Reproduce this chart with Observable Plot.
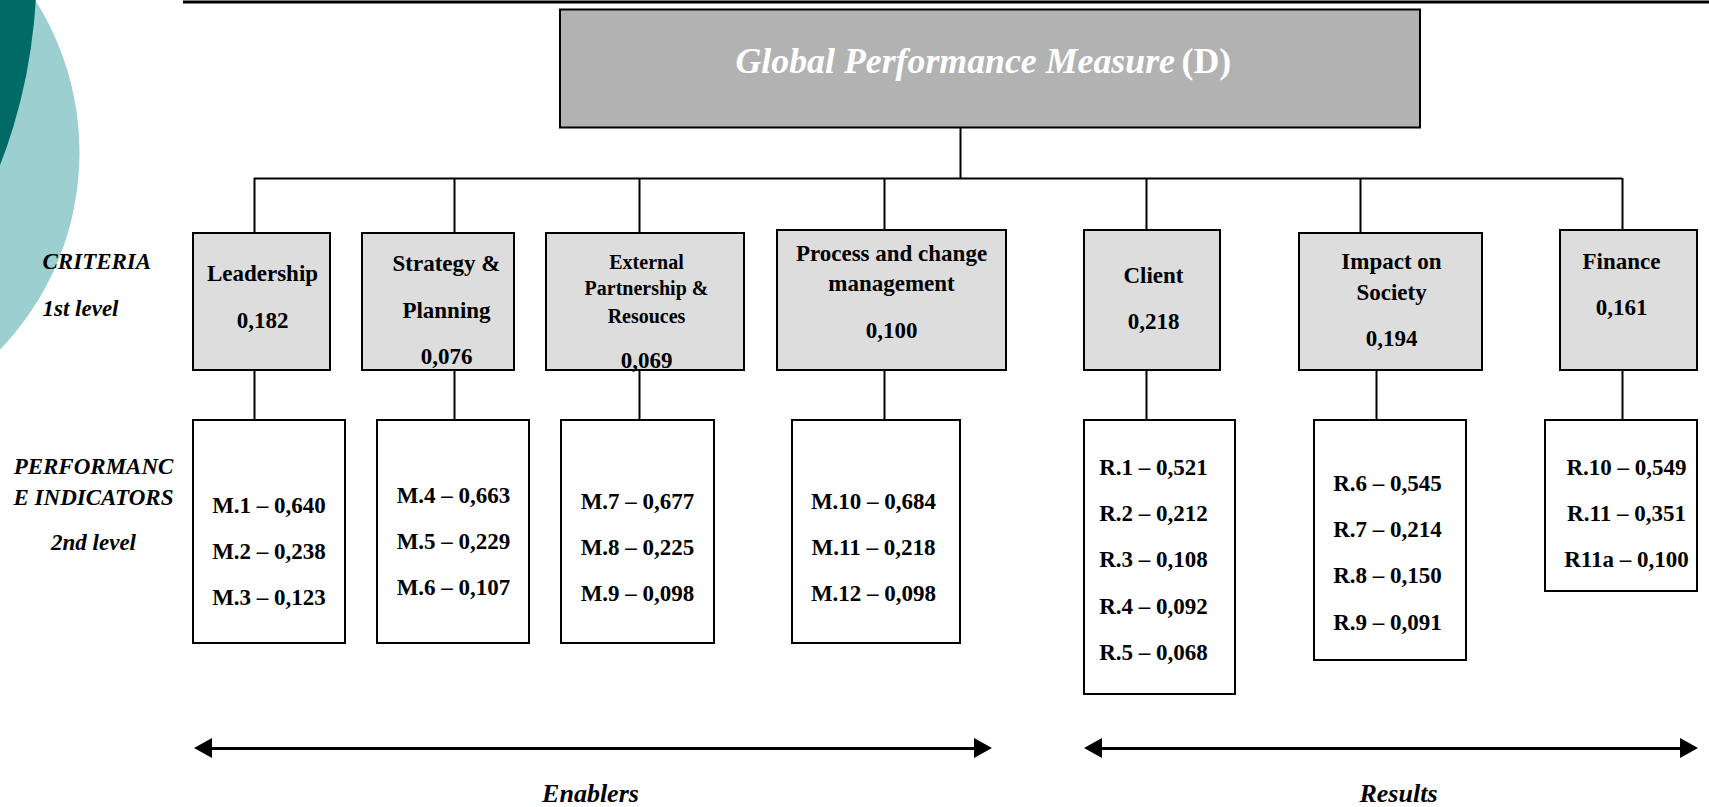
<!DOCTYPE html>
<html><head><meta charset="utf-8">
<script src="https://cdn.jsdelivr.net/npm/d3@7"></script>
<script src="https://cdn.jsdelivr.net/npm/@observablehq/plot@0.6"></script>
<style>html,body{margin:0;padding:0;background:#fff;overflow:hidden}</style>
</head><body><div id="chart"></div>
<script>
// ---------- DATA ----------
const title = "Global Performance Measure";
const titleCode = "(D)";
const criteria = ["Leadership", "Strategy &\nPlanning", "External\nPartnership &\nResouces", "Process and change\nmanagement", "Client", "Impact on\nSociety", "Finance"];
const criteriaWeights = ["0,182", "0,076", "0,069", "0,100", "0,218", "0,194", "0,161"];
const indicatorCodes = [["M.1","M.2","M.3"],["M.4","M.5","M.6"],["M.7","M.8","M.9"],["M.10","M.11","M.12"],["R.1","R.2","R.3","R.4","R.5"],["R.6","R.7","R.8","R.9"],["R.10","R.11","R11a"]];
const indicatorWeights = [["0,640","0,238","0,123"],["0,663","0,229","0,107"],["0,677","0,225","0,098"],["0,684","0,218","0,098"],["0,521","0,212","0,108","0,092","0,068"],["0,545","0,214","0,150","0,091"],["0,549","0,351","0,100"]];
const groups = ["Enablers", "Results"];
const levelLabels = [["CRITERIA", "1st level"], ["PERFORMANC", "E INDICATORS", "2nd level"]];

// ---------- LAYOUT (pixel frame) ----------
const W = 1709, H = 807;
const titleBox = {x1: 560, x2: 1420, y1: 9.5, y2: 127.5, linkX: 960, textX: 735, codeX: 1181, baseline: 72};
const hubY = 178, topRule = {x1: 183, x2: 1709, y: 1.5};
const critBox = [[193,330,233,370],[362,514,233,370],[546,744,233,370],[777,1006,230,370],[1084,1220,230,370],[1299,1482,233,370],[1560,1697,230,370]];
const critLinkX = [[254,254],[454,454],[639,639],[884,884],[1146,1146],[1360,1376],[1622,1622]];
const critTextX = [262,446,646,891,1153,1391,1621];
const critBaselines = [[280,327],[270,317,363],[268,294,322,367],[260,290,337],[282,328],[268,299,345],[268,314]];
const critNameSize = [23,23,20,23,23,23,23];
const indTop = 420;
const indBox = [[193,345,643],[377,529,643],[561,714,643],[792,960,643],[1084,1235,694],[1314,1466,660],[1545,1697,591]];
const indTextX = [268.5,453,637,873,1153,1387,1626];
const indFirstBaseline = [512,502,508,508,474,490,474];
const indStep = 46.4;
const arrowY = 748, arrowSpans = [[194,992],[1084,1698]], groupTextX = [590,1398], groupBaseline = 801;
const headLen = 18, headHalf = 10;
const levelPos = [{x: 42, anchor: "start", baselines: [268, 315]}, {x: 93, anchor: "middle", baselines: [473, 504, 549]}];
const lightDisc = [{x: -205, y: 152, r: 284}], darkDisc = [{x: -502, y: -30, r: 538}];
const stretch = {title: 1.18, criteria: 1.08, indicator: 1.18, level: 1.15, group: 1.12};

// ---------- DERIVED TABLES ----------
const rects = [];
rects.push({x1: titleBox.x1, x2: titleBox.x2, y1: titleBox.y1, y2: titleBox.y2, fill: "#b2b2b2"});
critBox.forEach(([x1,x2,y1,y2]) => rects.push({x1, x2, y1, y2, fill: "#dddddd"}));
indBox.forEach(([x1,x2,y2]) => rects.push({x1, x2, y1: indTop, y2, fill: "#ffffff"}));

const vLinks = [{x: titleBox.linkX, y1: titleBox.y2, y2: hubY}];
critBox.forEach((b, i) => {
  vLinks.push({x: critLinkX[i][0], y1: hubY, y2: b[2]});
  vLinks.push({x: critLinkX[i][1], y1: b[3], y2: indTop});
});
const hubLine = [{y: hubY, x1: critLinkX[0][0], x2: critLinkX[critLinkX.length-1][0]}];
const topLine = [topRule];

const critText = [];
criteria.forEach((name, i) => {
  const lines = name.split("\n");
  lines.forEach((t, j) => critText.push({x: critTextX[i], y: critBaselines[i][j], text: t, size: critNameSize[i]}));
  critText.push({x: critTextX[i], y: critBaselines[i][lines.length], text: criteriaWeights[i], size: 23});
});

const indText = [];
indicatorCodes.forEach((codes, i) => codes.forEach((c, j) =>
  indText.push({x: indTextX[i], y: indFirstBaseline[i] + j * indStep, text: `${c} – ${indicatorWeights[i][j]}`})));

const arrowLines = arrowSpans.map(([x1, x2], k) => ({x1, x2, y: arrowY, g: groups[k]}));
const heads = [];
arrowSpans.forEach(([x1, x2], k) => {
  heads.push({id: `L${k}`, x: x1, y1: arrowY, y2: arrowY});
  heads.push({id: `L${k}`, x: x1 + headLen, y1: arrowY - headHalf, y2: arrowY + headHalf});
  heads.push({id: `R${k}`, x: x2 - headLen, y1: arrowY - headHalf, y2: arrowY + headHalf});
  heads.push({id: `R${k}`, x: x2, y1: arrowY, y2: arrowY});
});
const groupText = groups.map((g, k) => ({x: groupTextX[k], y: groupBaseline, text: g}));

const levelText = [];
levelLabels.forEach((lines, k) => lines.forEach((t, j) =>
  levelText.push({x: levelPos[k].x, y: levelPos[k].baselines[j], text: t, anchor: levelPos[k].anchor})));

const serif = "'Liberation Serif', 'Times New Roman', serif";
const txt = {x: "x", y: "y", text: "text", lineAnchor: "bottom", fill: "#000", fontFamily: serif, fontWeight: "bold"};

const chart = Plot.plot({
  width: W, height: H, margin: 0,
  x: {domain: [0, W], range: [0, W], axis: null},
  y: {domain: [0, H], range: [0, H], axis: null},
  r: {type: "identity"},
  style: {background: "#fff"},
  marks: [
    Plot.dot(lightDisc, {x: "x", y: "y", r: "r", fill: "#9ccfd0", stroke: null}),
    Plot.dot(darkDisc, {x: "x", y: "y", r: "r", fill: "#006a66", stroke: null}),
    Plot.ruleY(hubLine, {y: "y", x1: "x1", x2: "x2", stroke: "#000", strokeWidth: 2}),
    Plot.ruleY(topLine, {y: "y", x1: "x1", x2: "x2", stroke: "#000", strokeWidth: 3}),
    Plot.ruleX(vLinks, {x: "x", y1: "y1", y2: "y2", stroke: "#000", strokeWidth: 2}),
    Plot.rect(rects, {x1: "x1", x2: "x2", y1: "y1", y2: "y2", fill: d => d.fill, stroke: "#000", strokeWidth: 2}),
    Plot.text([{x: titleBox.textX, y: titleBox.baseline, text: title}], {...txt, ariaLabel: "title", textAnchor: "start", fill: "#fff", fontStyle: "italic", fontSize: 35.8}),
    Plot.text([{x: titleBox.codeX, y: titleBox.baseline, text: titleCode}], {...txt, ariaLabel: "title", textAnchor: "start", fill: "#fff", fontSize: 35.8}),
    Plot.text(critText.filter(d => d.size === 23), {...txt, ariaLabel: "criteria", fontSize: 23}),
    Plot.text(critText.filter(d => d.size === 20), {...txt, ariaLabel: "criteria", fontSize: 20}),
    Plot.text(indText, {...txt, ariaLabel: "indicator", fontSize: 23}),
    Plot.ruleY(arrowLines, {y: "y", x1: d => d.x1 + 8, x2: d => d.x2 - 8, stroke: "#000", strokeWidth: 3}),
    Plot.areaY(heads, {x: "x", y1: "y1", y2: "y2", z: "id", fill: "#000", curve: "linear"}),
    Plot.text(groupText, {...txt, ariaLabel: "group", fontStyle: "italic", fontSize: 26}),
    Plot.text(levelText.filter(d => d.anchor === "start"), {...txt, ariaLabel: "level", textAnchor: "start", fontStyle: "italic", fontSize: 23}),
    Plot.text(levelText.filter(d => d.anchor === "middle"), {...txt, ariaLabel: "level", textAnchor: "middle", fontStyle: "italic", fontSize: 23})
  ]
});

// vertical stretch of the glyphs about their baseline (the source typeface is taller and narrower)
Object.entries(stretch).forEach(([k, s]) => {
  d3.select(chart).selectAll(`g[aria-label="${k}"] text`).each(function() {
    const t = this.getAttribute("transform");
    if (t) this.setAttribute("transform", `${t} scale(1,${s})`);
    else {
      const x = +this.getAttribute("x") || 0, y = +this.getAttribute("y") || 0;
      this.removeAttribute("x"); this.removeAttribute("y");
      this.setAttribute("transform", `translate(${x},${y}) scale(1,${s})`);
    }
  });
});
document.getElementById("chart").appendChild(chart);
</script>
</body></html>
